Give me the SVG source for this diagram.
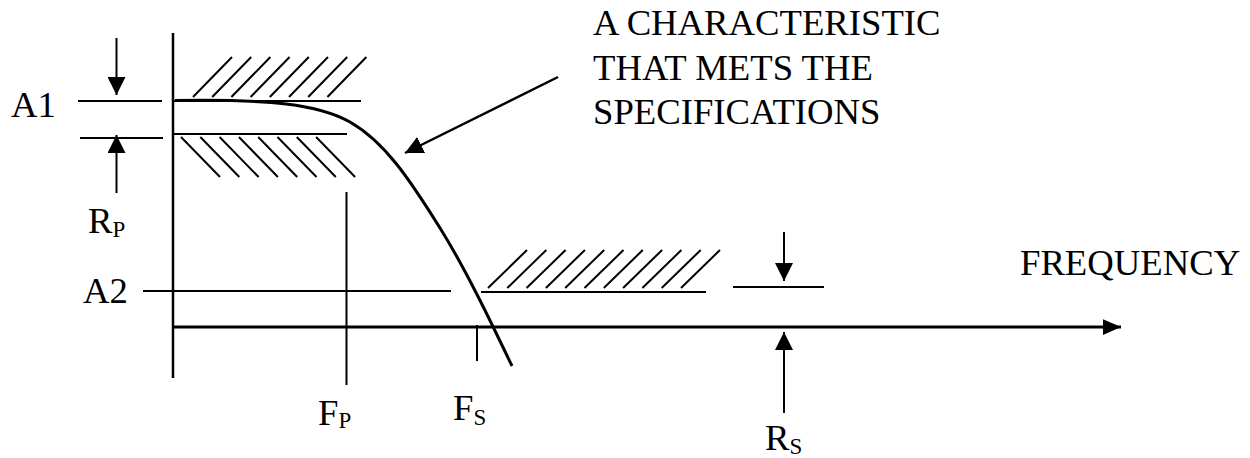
<svg xmlns="http://www.w3.org/2000/svg" width="1250" height="458" viewBox="0 0 1250 458">
<defs>
<style>
.ln{stroke:#000;stroke-width:2;fill:none}
.ax{stroke:#000;stroke-width:3;fill:none}
.cv{stroke:#000;stroke-width:3;fill:none}
.ht{stroke:#000;stroke-width:2}
.t{font-family:"Liberation Serif","Times New Roman",serif;font-size:36.7px;fill:#000}
.s{font-size:23px}
</style>
<marker id="ah" markerUnits="userSpaceOnUse" markerWidth="18" markerHeight="18" viewBox="0 0 16 16" refX="16" refY="8" orient="auto">
<path d="M0,0 L16,8 L0,16 Z" fill="#000"/>
</marker>
<marker id="ax" markerUnits="userSpaceOnUse" markerWidth="18" markerHeight="16" viewBox="0 0 16 14" refX="16" refY="7" orient="auto">
<path d="M0,0 L16,7 L0,14 Z" fill="#000"/>
</marker>
<path id="h" d="M0,0 l39,-40" class="ht"/>
<path id="hd" d="M0,0 l39,40" class="ht"/>
<path id="hs" d="M0,0 l39,-38" class="ht"/>
</defs>
<rect width="1250" height="458" fill="#fff"/>

<g id="axes">
<line class="ln" x1="173" y1="33" x2="173" y2="378" style="stroke-width:2.5"/>
<line class="ax" x1="173" y1="327" x2="1121" y2="327" marker-end="url(#ax)"/>
</g>

<g id="passband-upper">
<line class="ln" x1="174" y1="101" x2="361" y2="101"/>
<use href="#h" x="193" y="97"/><use href="#h" x="212.2" y="97"/><use href="#h" x="231.4" y="97"/><use href="#h" x="250.6" y="97"/>
<use href="#h" x="269.8" y="97"/><use href="#h" x="289" y="97"/><use href="#h" x="308.2" y="97"/><use href="#h" x="327.4" y="97"/>
</g>

<g id="passband-lower">
<line class="ln" x1="174" y1="134" x2="347" y2="134"/>
<use href="#hd" x="181" y="137"/><use href="#hd" x="200.3" y="137"/><use href="#hd" x="219.6" y="137"/><use href="#hd" x="238.9" y="137"/>
<use href="#hd" x="258.2" y="137"/><use href="#hd" x="277.5" y="137"/><use href="#hd" x="296.8" y="137"/><use href="#hd" x="316.1" y="137"/>
</g>

<g id="stopband">
<line class="ln" x1="481" y1="292" x2="706" y2="292"/>
<use href="#hs" x="488" y="288"/><use href="#hs" x="507.3" y="288"/><use href="#hs" x="526.6" y="288"/><use href="#hs" x="545.9" y="288"/>
<use href="#hs" x="565.2" y="288"/><use href="#hs" x="584.5" y="288"/><use href="#hs" x="603.8" y="288"/><use href="#hs" x="623.1" y="288"/>
<use href="#hs" x="642.4" y="288"/><use href="#hs" x="661.7" y="288"/><use href="#hs" x="681" y="288"/>
</g>

<g id="a1-rp">
<line class="ln" x1="78" y1="101" x2="162" y2="101"/>
<line class="ln" x1="80" y1="138" x2="163" y2="138"/>
<text class="t" x="11" y="117">A1</text>
<text class="t" x="88" y="233">R<tspan class="s" dy="4">P</tspan></text>
</g>

<g id="a2">
<line class="ln" x1="143" y1="291" x2="451" y2="291"/>
<text class="t" x="83" y="303">A2</text>
</g>

<g id="fp">
<line class="ln" x1="346.5" y1="192" x2="346.5" y2="385"/>
<text class="t" x="318" y="425">F<tspan class="s" dy="3">P</tspan></text>
</g>

<g id="fs">
<line class="ln" x1="477" y1="325" x2="477" y2="361"/>
<text class="t" x="453" y="420">F<tspan class="s" dy="5">S</tspan></text>
</g>

<g id="rs">
<line class="ln" x1="733" y1="287" x2="824" y2="287"/>
<text class="t" x="765" y="450">R<tspan class="s" dy="4">S</tspan></text>
</g>

<g id="curve">
<path class="cv" d="M175,100.5 C270,99 318,104 350,122 C385,142 410,180 440,228 C465,268 490,320 512,366"/>
</g>

<g id="label">
<text class="t" x="593" y="35">A CHARACTERISTIC</text>
<text class="t" x="593" y="80">THAT METS THE</text>
<text class="t" x="593" y="124">SPECIFICATIONS</text>
</g>

<g id="freq">
<text class="t" x="1020" y="275">FREQUENCY</text>
</g>

<g id="connectors">
<line class="ln" x1="116.5" y1="38" x2="116.5" y2="95" marker-end="url(#ah)"/>
<line class="ln" x1="116.5" y1="193" x2="116.5" y2="135" marker-end="url(#ah)"/>
<line class="ln" x1="784" y1="232" x2="784" y2="281" marker-end="url(#ah)"/>
<line class="ln" x1="784" y1="413" x2="784" y2="332" marker-end="url(#ah)"/>
<line class="ln" x1="558" y1="77" x2="405" y2="153" style="stroke-width:2.5" marker-end="url(#ah)"/>
</g>
</svg>
